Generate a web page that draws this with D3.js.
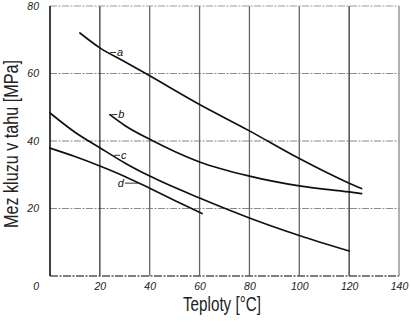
<!DOCTYPE html>
<html>
<head>
<meta charset="utf-8">
<script src="https://cdn.jsdelivr.net/npm/d3@7"></script>
<style>
  html, body { margin: 0; padding: 0; background: #fff; }
  svg { display: block; }
  .tick-label { font-family: "Liberation Sans", Arial, sans-serif; font-style: italic; font-size: 10.5px; fill: #222; }
  .title { font-family: "Liberation Sans Narrow", "Liberation Sans", Arial, sans-serif; font-size: 20px; fill: #222; }
  .curve-label { font-family: "Liberation Sans", Arial, sans-serif; font-style: italic; font-size: 11px; fill: #111; }
</style>
</head>
<body>
<svg id="chart" width="411" height="322"></svg>
<script>
// values
var xTicks = [20, 40, 60, 80, 100, 120, 140];
var yTicks = [20, 40, 60, 80];
var gridX = [20, 40, 60, 80, 100, 120];
var gridY = [20, 40, 60];

var tempA = [12, 20, 30, 40, 60, 80, 100, 120, 125];
var valA = [72, 67.6, 63.5, 59.3, 50.8, 43, 34.8, 27.5, 25.9];

var tempB = [24, 30, 40, 50, 60, 80, 100, 120, 125];
var valB = [47.8, 44.6, 40.5, 36.9, 33.8, 29.6, 26.7, 24.9, 24.4];

var tempC = [0, 10, 20, 30, 40, 60, 80, 100, 120];
var valC = [48.3, 42.6, 38, 33.5, 29.6, 23.1, 17.2, 12, 7.4];

var tempD = [0, 10, 20, 30, 40, 50, 61];
var valD = [37.9, 35.4, 32.6, 29.5, 26, 22.4, 18.5];

var curveNames = ['a', 'b', 'c', 'd'];
// where each curve label's leader touches the curve (temperature) and which side the letter sits
var labelAt = [23.7, 24.2, 25.3, 36.1];
var labelSide = ['right', 'right', 'right', 'left'];

var xTitle = 'Teploty [\u00B0C]';
var yTitle = 'Mez kluzu v tahu [MPa]';

var svg = d3.select('#chart');

var x = d3.scaleLinear().domain([0, 140]).range([50, 399]);
var y = d3.scaleLinear().domain([0, 80]).range([276, 6]);

var frame = svg.append('g').attr('id', 'frame');

// horizontal grid, dash-dot like the scan
frame.selectAll('line.hgrid').data(gridY).enter().append('line')
  .attr('class', 'hgrid')
  .attr('x1', x(0)).attr('x2', x(140))
  .attr('y1', function(d) { return y(d); })
  .attr('y2', function(d) { return y(d); })
  .attr('stroke', '#888')
  .attr('stroke-width', 1.2)
  .attr('stroke-dasharray', '7,1.5,2,1.5');

// vertical grid
frame.selectAll('line.vgrid').data(gridX).enter().append('line')
  .attr('class', 'vgrid')
  .attr('x1', function(d) { return x(d); })
  .attr('x2', function(d) { return x(d); })
  .attr('y1', y(80)).attr('y2', y(0))
  .attr('stroke', function(d) { return (d === 20 || d === 120) ? '#333' : '#666'; })
  .attr('stroke-width', 1.3);

// top and bottom borders are dashed in the scan
frame.append('line')
  .attr('x1', x(0)).attr('x2', x(140))
  .attr('y1', y(80)).attr('y2', y(80))
  .attr('stroke', '#999').attr('stroke-width', 1.2)
  .attr('stroke-dasharray', '7,1.5,2,1.5');

frame.append('line')
  .attr('x1', x(0)).attr('x2', x(140))
  .attr('y1', y(0)).attr('y2', y(0))
  .attr('stroke', '#555').attr('stroke-width', 1.4)
  .attr('stroke-dasharray', '8,1.5,2,1.5');

frame.append('line')
  .attr('x1', x(140)).attr('x2', x(140))
  .attr('y1', y(80)).attr('y2', y(0))
  .attr('stroke', '#888').attr('stroke-width', 1.3);

frame.append('line')
  .attr('x1', x(0)).attr('x2', x(0))
  .attr('y1', y(80)).attr('y2', y(0))
  .attr('stroke', '#111').attr('stroke-width', 1.6);

// axes, used only for their labels
var xAxis = d3.axisBottom(x).tickValues(xTicks).tickSize(0).tickPadding(0)
  .tickFormat(d3.format('d'));
var xAxisG = svg.append('g')
  .attr('transform', 'translate(0,' + (y(0) + 11) + ')')
  .call(xAxis);

var yAxis = d3.axisLeft(y).tickValues(yTicks).tickSize(0).tickPadding(0)
  .tickFormat(d3.format('d'));
var yAxisG = svg.append('g')
  .attr('transform', 'translate(' + (x(0) - 11) + ',0)')
  .call(yAxis);

[xAxisG, yAxisG].forEach(function(g) {
  g.select('.domain').remove();
  g.selectAll('text').attr('class', 'tick-label').attr('fill', null);
  g.attr('font-family', null).attr('font-size', null);
});
xAxisG.selectAll('text').attr('dy', '0.32em').attr('y', 0);

// the corner zero sits low, level with the x labels
svg.append('text')
  .attr('class', 'tick-label')
  .attr('x', x(0) - 11)
  .attr('y', y(0) + 11)
  .attr('dy', '0.32em')
  .attr('text-anchor', 'end')
  .text('0');

// curves
var series = [
  { name: curveNames[0], t: tempA, v: valA },
  { name: curveNames[1], t: tempB, v: valB },
  { name: curveNames[2], t: tempC, v: valC },
  { name: curveNames[3], t: tempD, v: valD }
];

var line = d3.line()
  .x(function(p) { return x(p[0]); })
  .y(function(p) { return y(p[1]); })
  .curve(d3.curveMonotoneX);

svg.append('g').attr('id', 'curves')
  .selectAll('path').data(series).enter().append('path')
  .attr('d', function(s) { return line(d3.zip(s.t, s.v)); })
  .attr('fill', 'none')
  .attr('stroke', '#111')
  .attr('stroke-width', 1.7)
  .attr('stroke-linecap', 'round');

// curve labels with short leaders
var labels = svg.append('g').attr('id', 'labels');
series.forEach(function(s, i) {
  var t = labelAt[i];
  var cy = y(d3.interpolateNumber(0, 0)(0) + valueAt(s, t));
  var cx = x(t);
  if (labelSide[i] === 'right') {
    labels.append('line')
      .attr('x1', cx + 1).attr('x2', cx + 7)
      .attr('y1', cy - 0.5).attr('y2', cy - 0.5)
      .attr('stroke', '#333').attr('stroke-width', 1);
    labels.append('text')
      .attr('class', 'curve-label')
      .attr('x', cx + 8).attr('y', cy + 3)
      .text(s.name);
  } else {
    labels.append('line')
      .attr('x1', cx - 15).attr('x2', cx - 1)
      .attr('y1', cy - 0.5).attr('y2', cy - 0.5)
      .attr('stroke', '#333').attr('stroke-width', 1);
    labels.append('text')
      .attr('class', 'curve-label')
      .attr('x', cx - 16).attr('y', cy + 3)
      .attr('text-anchor', 'end')
      .text(s.name);
  }
});

function valueAt(s, t) {
  for (var k = 0; k < s.t.length - 1; k++) {
    if (t >= s.t[k] && t <= s.t[k + 1]) {
      var f = (t - s.t[k]) / (s.t[k + 1] - s.t[k]);
      return s.v[k] + f * (s.v[k + 1] - s.v[k]);
    }
  }
  return s.v[0];
}

// axis titles
svg.append('text')
  .attr('class', 'title')
  .attr('x', 222)
  .attr('y', 311)
  .attr('text-anchor', 'middle')
  .attr('textLength', 78)
  .attr('lengthAdjust', 'spacingAndGlyphs')
  .text(xTitle);

svg.append('text')
  .attr('class', 'title')
  .attr('transform', 'translate(18,144) rotate(-90)')
  .attr('text-anchor', 'middle')
  .attr('textLength', 168)
  .attr('lengthAdjust', 'spacingAndGlyphs')
  .text(yTitle);
</script>
</body>
</html>
